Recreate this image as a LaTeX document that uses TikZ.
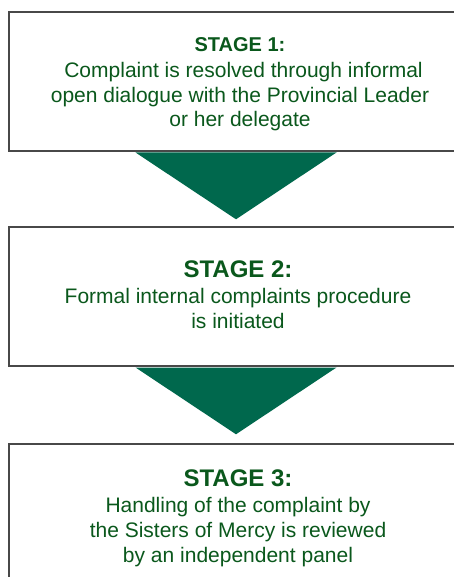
\documentclass[tikz,border=0pt]{standalone}
\usepackage{fontspec}
\setmainfont{Liberation Sans}
\usetikzlibrary{calc}
\definecolor{stagetext}{RGB}{10,88,28}
\definecolor{arrowgreen}{RGB}{0,104,77}
\definecolor{boxline}{RGB}{72,72,72}
\tikzset{
  stagebox/.style={draw=boxline, line width=1.5pt, fill=white, rectangle,
    minimum width=454pt, inner sep=0pt},
  stagelabel/.style={inner sep=0pt, align=center, text=stagetext,
    font=\fontsize{21}{24.7}\selectfont},
  downarrow/.style={fill=arrowgreen, draw=none},
}
\newcommand{\stagetitle}[2]{{\fontsize{#1}{#1}\selectfont\bfseries #2}}
\begin{document}
\begin{tikzpicture}[x=1pt, y=-1pt]
  \fill[white] (0,0) rectangle (454,577);
  \clip (0,0) rectangle (454,577);
  \useasboundingbox (0,0) rectangle (454,577);

  % the three stage frames
  \node[stagebox, minimum height=139pt] (b1) at (236,81.5) {};
  \node[stagebox, minimum height=139pt] (b2) at (236,296.5) {};
  \node[stagebox, minimum height=144pt] (b3) at (236,516) {};

  % their texts
  \node[stagelabel] (t1) at ($(b1.center)+(4,3)$)
    {\stagetitle{20}{STAGE 1:}\\[1pt]
     \hspace*{7pt}Complaint is resolved through informal\\
     open dialogue with the Provincial Leader\\
     or her delegate};
  \node[stagelabel] (t2) at ($(b2.center)+(2,-2)$)
    {\stagetitle{24}{STAGE 2:}\\[2pt]
     Formal internal complaints procedure\\
     is initiated};
  \node[stagelabel] (t3) at ($(b3.center)+(2,2)$)
    {\stagetitle{24}{STAGE 3:}\\[2pt]
     Handling of the complaint by\\
     the Sisters of Mercy is reviewed\\
     by an independent panel};

  % wedge arrows between the stages
  \fill[downarrow] ($(b1.south)+(-100.5,0.75)$) -- ($(b1.south)+(100.5,0.75)$)
    -- ($(b2.north)+(0,-7)$) -- cycle;
  \fill[downarrow] ($(b2.south)+(-100.5,0.75)$) -- ($(b2.south)+(100.5,0.75)$)
    -- ($(b3.north)+(0,-9)$) -- cycle;
\end{tikzpicture}
\end{document}
